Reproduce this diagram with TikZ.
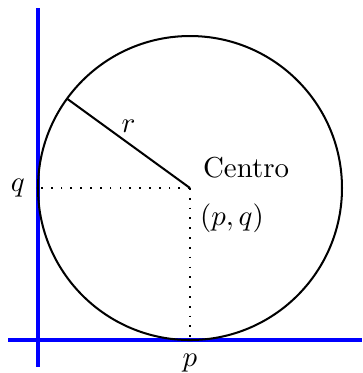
\documentclass[tikz,border=0pt]{standalone}
\usepackage{amsmath}
\usepackage{xcolor}
\definecolor{ejeazul}{HTML}{0000FF}
\definecolor{trazo}{HTML}{000000}

\begin{document}
\begin{tikzpicture}[x=1.85cm, y=1.85cm,
                    every node/.style={trazo, font=\normalsize},
                    eje/.style={ejeazul, line width=1.1pt},
                    punteado/.style={trazo, line width=0.6pt, dash pattern=on 0.6pt off 2.8pt}]

  \useasboundingbox (-1.25,-1.217) rectangle (1.138,1.237);

  %% puntos del dibujo
  \coordinate (c) at (0,0);
  \coordinate (tq) at (-1,0);
  \coordinate (tp) at (0,-1);
  \coordinate (re) at (144:1);

  %% ejes (rectas tangentes)
  \coordinate (ej1) at (-1,1.184);
  \coordinate (ej2) at (-1,-1.178);
  \coordinate (eh1) at (-1.197,-1);
  \coordinate (eh2) at (1.132,-1);
  \draw[eje] (ej1) -- (ej2);
  \draw[eje] (eh1) -- (eh2);

  %% circunferencia y radio
  \draw[trazo, line width=0.7pt] (c) circle (1);
  \draw[trazo, line width=0.7pt] (c) -- node[above] {$r$} (re);

  %% proyecciones del centro
  \draw[punteado] (c) -- (tq);
  \draw[punteado] (c) -- (tp);

  %% rotulos
  \node[left, xshift=-1pt] (lq) at (tq) {$q$};
  \node[below, yshift=-1.5pt] (lp) at (tp) {$p$};
  \node[anchor=south west, xshift=1pt] (centro) at (c) {Centro};
  \node[anchor=north west, yshift=-2pt] (pq) at (c) {$(p,q)$};

\end{tikzpicture}
\end{document}
